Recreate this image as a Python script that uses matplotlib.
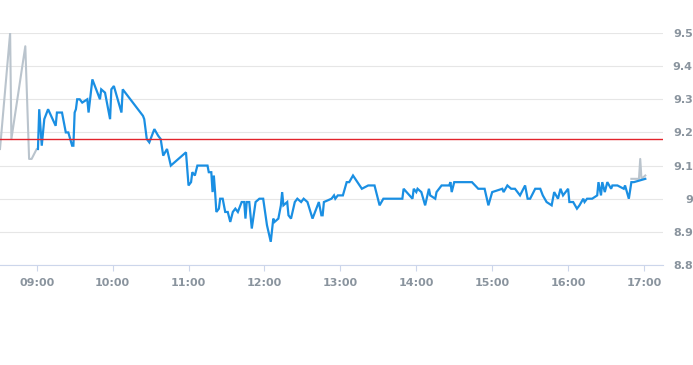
import matplotlib
matplotlib.use('Agg')
import matplotlib.pyplot as plt

# ---- data (intraday price) ----
PRE_TIMES = ['08:31', '08:39', '08:40', '08:51', '08:54', '08:56', '09:00', '09:01']
PRE_VALUES = [9.15, 9.50, 9.18, 9.46, 9.12, 9.12, 9.15, 9.15]

TIMES = [
    '09:01', '09:02', '09:04', '09:06', '09:09', '09:15', '09:16', '09:20', '09:23', '09:25',
    '09:28', '09:29', '09:30', '09:31', '09:32', '09:34', '09:36', '09:40', '09:41', '09:44',
    '09:50', '09:51', '09:54', '09:58', '09:59', '10:01', '10:07', '10:08', '10:24', '10:25',
    '10:27', '10:29', '10:33', '10:36', '10:38', '10:40', '10:43', '10:46', '10:58', '11:00',
    '11:02', '11:03', '11:05', '11:07', '11:15', '11:16', '11:18', '11:19', '11:20', '11:21',
    '11:22', '11:24', '11:25', '11:27', '11:29', '11:31', '11:33', '11:35', '11:37', '11:39',
    '11:42', '11:44', '11:45', '11:46', '11:48', '11:50', '11:53', '11:56', '11:59', '12:02',
    '12:05', '12:07', '12:08', '12:11', '12:13', '12:14', '12:15', '12:18', '12:19', '12:21',
    '12:24', '12:26', '12:29', '12:31', '12:34', '12:38', '12:41', '12:43', '12:45', '12:46',
    '12:47', '12:53', '12:55', '12:56', '12:58', '13:02', '13:05', '13:07', '13:10', '13:17',
    '13:22', '13:27', '13:31', '13:34', '13:49', '13:50', '13:57', '13:58', '14:00', '14:01',
    '14:04', '14:07', '14:10', '14:11', '14:15', '14:16', '14:20', '14:26', '14:27', '14:28',
    '14:30', '14:44', '14:49', '14:54', '14:57', '15:00', '15:08', '15:09', '15:12', '15:15',
    '15:18', '15:22', '15:26', '15:28', '15:30', '15:34', '15:38', '15:40', '15:43', '15:47',
    '15:49', '15:52', '15:54', '15:56', '16:00', '16:01', '16:04', '16:07', '16:09', '16:12',
    '16:13', '16:15', '16:19', '16:23', '16:24', '16:26', '16:27', '16:29', '16:31', '16:34',
    '16:35', '16:39', '16:44', '16:45', '16:48', '16:50', '16:52', '17:01',
]
VALUES = [
    9.15, 9.27, 9.16, 9.24, 9.27, 9.22, 9.26, 9.26, 9.20, 9.20,
    9.16, 9.16, 9.26, 9.27, 9.30, 9.30, 9.29, 9.30, 9.26, 9.36,
    9.30, 9.33, 9.32, 9.24, 9.33, 9.34, 9.26, 9.33, 9.25, 9.24,
    9.18, 9.17, 9.21, 9.19, 9.18, 9.13, 9.15, 9.10, 9.14, 9.04,
    9.05, 9.08, 9.07, 9.10, 9.10, 9.08, 9.08, 9.02, 9.07, 9.02,
    8.96, 8.97, 9.00, 9.00, 8.96, 8.96, 8.93, 8.96, 8.97, 8.96,
    8.99, 8.99, 8.94, 8.99, 8.99, 8.91, 8.99, 9.00, 9.00, 8.92,
    8.87, 8.94, 8.93, 8.94, 8.98, 9.02, 8.98, 8.99, 8.95, 8.94,
    8.99, 9.00, 8.99, 9.00, 8.99, 8.94, 8.97, 8.99, 8.95, 8.95,
    8.99, 9.00, 9.01, 9.00, 9.01, 9.01, 9.05, 9.05, 9.07, 9.03,
    9.04, 9.04, 8.98, 9.00, 9.00, 9.03, 9.00, 9.03, 9.02, 9.03,
    9.02, 8.98, 9.03, 9.01, 9.00, 9.02, 9.04, 9.04, 9.05, 9.02,
    9.05, 9.05, 9.03, 9.03, 8.98, 9.02, 9.03, 9.02, 9.04, 9.03,
    9.03, 9.01, 9.04, 9.00, 9.00, 9.03, 9.03, 9.01, 8.99, 8.98,
    9.02, 9.00, 9.03, 9.01, 9.03, 8.99, 8.99, 8.97, 8.98, 9.00,
    8.99, 9.00, 9.00, 9.01, 9.05, 9.01, 9.05, 9.02, 9.05, 9.03,
    9.04, 9.04, 9.03, 9.04, 9.00, 9.05, 9.05, 9.06,
]

POST_TIMES = ['16:50', '16:56', '16:57', '16:58', '17:01']
POST_VALUES = [9.06, 9.06, 9.12, 9.06, 9.07]

PREV_CLOSE = 9.18
X_TICKS = ['09:00', '10:00', '11:00', '12:00', '13:00', '14:00', '15:00', '16:00', '17:00']
Y_TICKS = [8.8, 8.9, 9.0, 9.1, 9.2, 9.3, 9.4, 9.5]

BLUE = '#1a8fe3'
GREY = '#bac4cd'
RED = '#e2242c'
GRID = '#e6e6e6'
AXIS = '#ccd6eb'
LABEL = '#8a949e'


def to_min(s):
    h, m = s.split(':')
    return int(h) * 60 + int(m)


fig = plt.figure(figsize=(6.93, 3.65), dpi=100)
ax = fig.add_axes([0.0, 1 - 265 / 365, 663 / 693, 232 / 365])

ax.plot([to_min(t) for t in PRE_TIMES], PRE_VALUES, color=GREY, lw=1.5, zorder=2)
ax.plot([to_min(t) for t in POST_TIMES], POST_VALUES, color=GREY, lw=1.5, zorder=2)
ax.plot([to_min(t) for t in TIMES], VALUES, color=BLUE, lw=1.6, zorder=3,
        solid_joinstyle='miter')
ax.axhline(PREV_CLOSE, color=RED, lw=1.0, zorder=4)

ax.set_xlim(511, 1035)
ax.set_ylim(8.8, 9.5)

ax.set_xticks([to_min(t) for t in X_TICKS])
ax.set_xticklabels(X_TICKS)
ax.set_yticks(Y_TICKS)
ax.set_yticklabels(['%g' % v for v in Y_TICKS])

ax.yaxis.tick_right()
ax.tick_params(axis='y', length=0, pad=21.5, labelsize=8, labelcolor=LABEL)
for lab in ax.get_yticklabels():
    lab.set_horizontalalignment('right')
    lab.set_fontweight('semibold')
ax.tick_params(axis='x', length=4, width=0.8, color=AXIS, pad=5,
               labelsize=8, labelcolor=LABEL)
for lab in ax.get_xticklabels():
    lab.set_fontweight('semibold')

ax.grid(axis='y', color=GRID, lw=0.8)
ax.set_axisbelow(True)
for side in ['left', 'right', 'top']:
    ax.spines[side].set_visible(False)
ax.spines['bottom'].set_color(AXIS)
ax.spines['bottom'].set_linewidth(0.8)

fig.savefig('out.png', dpi=100)
